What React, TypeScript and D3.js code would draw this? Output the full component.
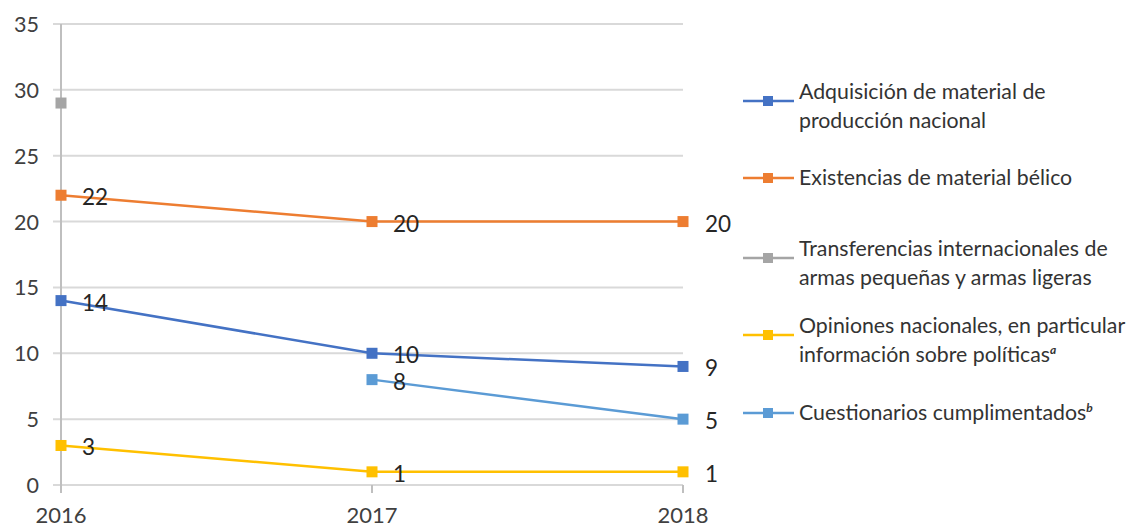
import React from "react";
import * as d3 from "d3";

const years = ["2016", "2017", "2018"];
const yTicks = [0, 5, 10, 15, 20, 25, 30, 35];

const adquisicion = [14, 10, 9];
const existencias = [22, 20, 20];
const transferencias = [29, null, null];
const opiniones = [3, 1, 1];
const cuestionarios = [null, 8, 5];

const seriesNames = [
  ["Adquisición de material de", "producción nacional"],
  ["Existencias de material bélico"],
  ["Transferencias internacionales de", "armas pequeñas y armas ligeras"],
  ["Opiniones nacionales, en particular", "información sobre políticas"],
  ["Cuestionarios cumplimentados"],
];
const seriesSup = ["", "", "", "a", "b"];
const seriesColors = ["#4472C4", "#ED7D31", "#A5A5A5", "#FFC000", "#5B9BD5"];
const seriesValues = [adquisicion, existencias, transferencias, opiniones, cuestionarios];
const showLabels = [true, true, false, true, true];

const W = 1132;
const H = 527;
const font = "Lato, 'Open Sans', sans-serif";

export default function App() {
  const x = d3.scalePoint<string>().domain(years).range([61, 683]);
  const y = d3.scaleLinear().domain([0, 35]).range([485, 24]);

  const line = d3
    .line<number | null>()
    .defined((d) => d != null)
    .x((d, i) => x(years[i]) as number)
    .y((d) => y(d as number));

  // legend rows: y of the line marker
  const legendRows = [101, 178, 258, 335, 413];

  return (
    <svg
      width={W}
      height={H}
      style={{ position: "absolute", left: 0, top: 0, background: "#fff" }}
      fontFamily={font}
    >
      {/* gridlines */}
      {yTicks.map((t) => (
        <g key={t}>
          <line x1={53} x2={683} y1={y(t)} y2={y(t)} stroke="#d9d9d9" strokeWidth={2} />
          <text x={39} y={y(t) + 8} textAnchor="end" fontSize={21.5} fill="#404040">
            {t}
          </text>
        </g>
      ))}
      {/* axis */}
      <line x1={61} x2={61} y1={24} y2={493} stroke="#bfbfbf" strokeWidth={2} />
      {years.map((yr) => (
        <g key={yr}>
          <line x1={x(yr)} x2={x(yr)} y1={485} y2={493} stroke="#bfbfbf" strokeWidth={2} />
          <text x={x(yr)} y={523} textAnchor="middle" fontSize={22} fill="#404040">
            {yr}
          </text>
        </g>
      ))}
      {/* series */}
      {seriesValues.map((vals, si) => (
        <g key={si}>
          <path d={line(vals) || ""} fill="none" stroke={seriesColors[si]} strokeWidth={2.5} />
          {vals.map((v, i) =>
            v == null ? null : (
              <g key={i}>
                <rect
                  x={(x(years[i]) as number) - 5.5}
                  y={y(v) - 5.5}
                  width={11}
                  height={11}
                  fill={seriesColors[si]}
                />
                {showLabels[si] && (
                  <text
                    x={(x(years[i]) as number) + (i === 2 ? 22 : 21)}
                    y={y(v) + 10}
                    fontSize={22.5}
                    fill="#262626"
                  >
                    {v}
                  </text>
                )}
              </g>
            )
          )}
        </g>
      ))}
      {/* legend */}
      {seriesNames.map((lines, si) => {
        const ly = legendRows[si];
        const textY = lines.length > 1 ? ly - 2 : ly + 7;
        return (
          <g key={si}>
            <line x1={743} x2={794} y1={ly} y2={ly} stroke={seriesColors[si]} strokeWidth={2.5} />
            <rect x={763} y={ly - 5} width={10} height={10} fill={seriesColors[si]} />
            <text fontSize={21.3} fill="#333">
              {lines.map((l, li) => (
                <tspan key={li} x={799} y={textY + li * 29}>
                  {l}
                  {li === lines.length - 1 && seriesSup[si] && (
                    <tspan fontSize={12} fontStyle="italic" fontWeight="bold" dy={-8}>
                      {seriesSup[si]}
                    </tspan>
                  )}
                </tspan>
              ))}
            </text>
          </g>
        );
      })}
    </svg>
  );
}
